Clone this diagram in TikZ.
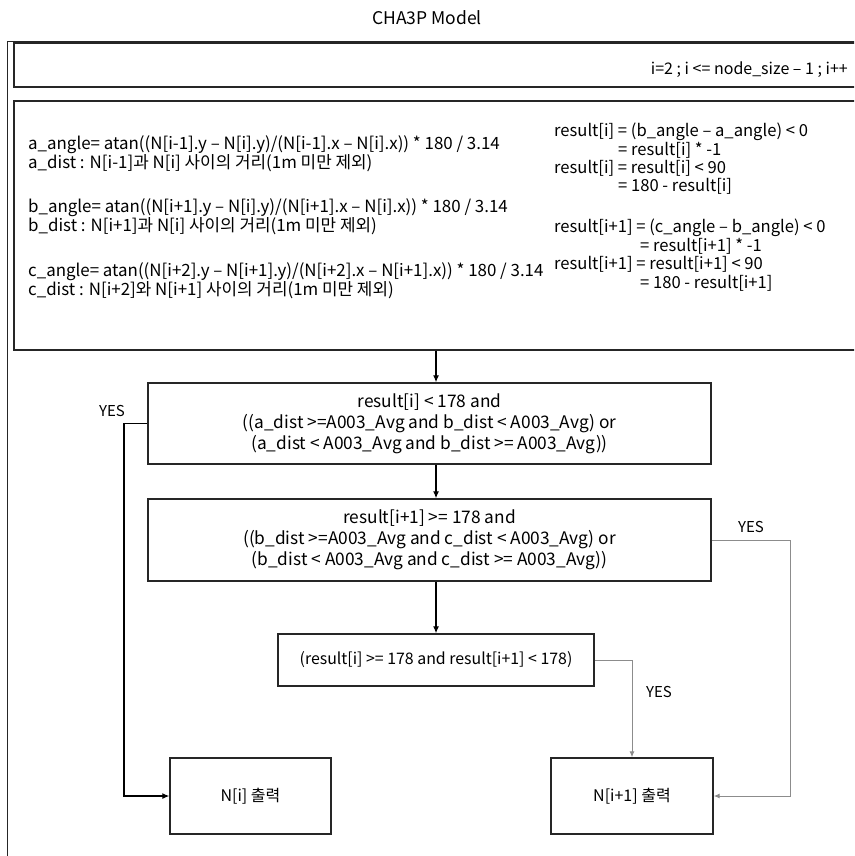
\documentclass[tikz,border=0pt]{standalone}
\usepackage{fontspec}
\setmainfont{Noto Sans CJK KR}
\usetikzlibrary{arrows.meta}
\begin{document}
\begin{tikzpicture}[x=1pt,y=-1pt,
  frame/.style={draw=black!85, line width=1.4pt, inner sep=0pt},
  txt/.style={inner sep=0pt, font=\fontsize{15.9}{18}\selectfont},
  ctxt/.style={inner sep=0pt, align=center, font=\fontsize{17.3}{21}\selectfont},
  ltxt/.style={inner sep=0pt, align=left, anchor=west, font=\fontsize{16.9}{18}\selectfont},
  rtxt/.style={inner sep=0pt, align=left, anchor=west, font=\fontsize{16.6}{18}\selectfont},
  arr/.style={draw=black, line width=1.2pt, -{Latex[length=7pt,width=6pt]}},
  garr/.style={draw=black!45, line width=1pt, -{Latex[length=6pt,width=5pt]}},
  lbl/.style={inner sep=0pt, font=\fontsize{15}{18}\selectfont}]
\clip (0,0) rectangle (854,856);
\fill[white] (0,0) rectangle (854,856);

% title and outer frame
\node[inner sep=0pt, font=\fontsize{17.5}{20}\selectfont] (title) at (427,18) {CHA3P Model};
\draw[black!85, line width=1pt] (7,862) -- (7,42) -- (862,42);

% loop header
\node[frame, minimum width=856pt, minimum height=44pt] (loop) at (442,65) {};
\node[inner sep=0pt, anchor=east, font=\fontsize{16}{18}\selectfont] (looptxt) at (848,70) {i=2 ; i <= node\_size – 1 ; i++};

% computation block
\node[frame, minimum width=856pt, minimum height=249pt] (calc) at (442,225.5) {};
\node[ltxt] (ta) at (28,154) {a\_angle= atan((N[i-1].y – N[i].y)/(N[i-1].x – N[i].x)) * 180 / 3.14\\a\_dist : N[i-1]과 N[i] 사이의 거리(1m 미만 제외)};
\node[ltxt] (tb) at (28,217) {b\_angle= atan((N[i+1].y – N[i].y)/(N[i+1].x – N[i].x)) * 180 / 3.14\\b\_dist : N[i+1]과 N[i] 사이의 거리(1m 미만 제외)};
\node[ltxt] (tc) at (28,281) {c\_angle= atan((N[i+2].y – N[i+1].y)/(N[i+2].x – N[i+1].x)) * 180 / 3.14\\c\_dist : N[i+2]와 N[i+1] 사이의 거리(1m 미만 제외)};
\node[rtxt] (r1) at (554,132) {result[i] = (b\_angle – a\_angle) < 0};
\node[rtxt] (r2) at (618,150) {= result[i] * -1};
\node[rtxt] (r3) at (554,168) {result[i] = result[i] < 90};
\node[rtxt] (r4) at (618,186) {= 180 - result[i]};
\node[rtxt] (r5) at (554,228) {result[i+1] = (c\_angle – b\_angle) < 0};
\node[rtxt] (r6) at (640,246) {= result[i+1] * -1};
\node[rtxt] (r7) at (554,264) {result[i+1] = result[i+1] < 90};
\node[rtxt] (r8) at (640,283) {= 180 - result[i+1]};

% decisions
\node[frame, minimum width=563pt, minimum height=81pt] (d1) at (429.5,423.5) {};
\node[ctxt] (d1t) at (d1.center) {result[i] < 178 and\\((a\_dist >=A003\_Avg and b\_dist < A003\_Avg) or\\(a\_dist < A003\_Avg and b\_dist >= A003\_Avg))};
\node[frame, minimum width=563pt, minimum height=82pt] (d2) at (429.5,540) {};
\node[ctxt] (d2t) at (d2.center) {result[i+1] >= 178 and\\((b\_dist >=A003\_Avg and c\_dist < A003\_Avg) or\\(b\_dist < A003\_Avg and c\_dist >= A003\_Avg))};
\node[frame, minimum width=316pt, minimum height=52pt] (d3) at (436,660) {};
\node[txt] (d3t) at (d3.center) {(result[i] >= 178 and result[i+1] < 178)};

% outputs
\node[frame, minimum width=161pt, minimum height=76pt, font=\fontsize{16}{18}\selectfont] (o1) at (250.5,796) {N[i] 출력};
\node[frame, minimum width=162pt, minimum height=76pt, font=\fontsize{16}{18}\selectfont] (o2) at (632,796) {N[i+1] 출력};

% connectors
\coordinate (lx) at (124,0);
\coordinate (rx) at (790,0);
\draw[arr] (calc.south -| d3.center) -- (d1.north -| d3.center);
\draw[arr] (d1.south -| d3.center) -- (d2.north -| d3.center);
\draw[arr] (d2.south -| d3.center) -- (d3.north);
\draw[arr] (d1.west) -- (d1.west -| lx) |- (o1.west);
\draw[garr] (d2.east) -- (d2.east -| rx) |- (o2.east);
\draw[garr] (d3.east) -| (o2.north);

% branch labels
\node[lbl] (y1) at (112,411) {YES};
\node[lbl] (y2) at (751,527) {YES};
\node[lbl] (y3) at (659,692) {YES};
\end{tikzpicture}
\end{document}
